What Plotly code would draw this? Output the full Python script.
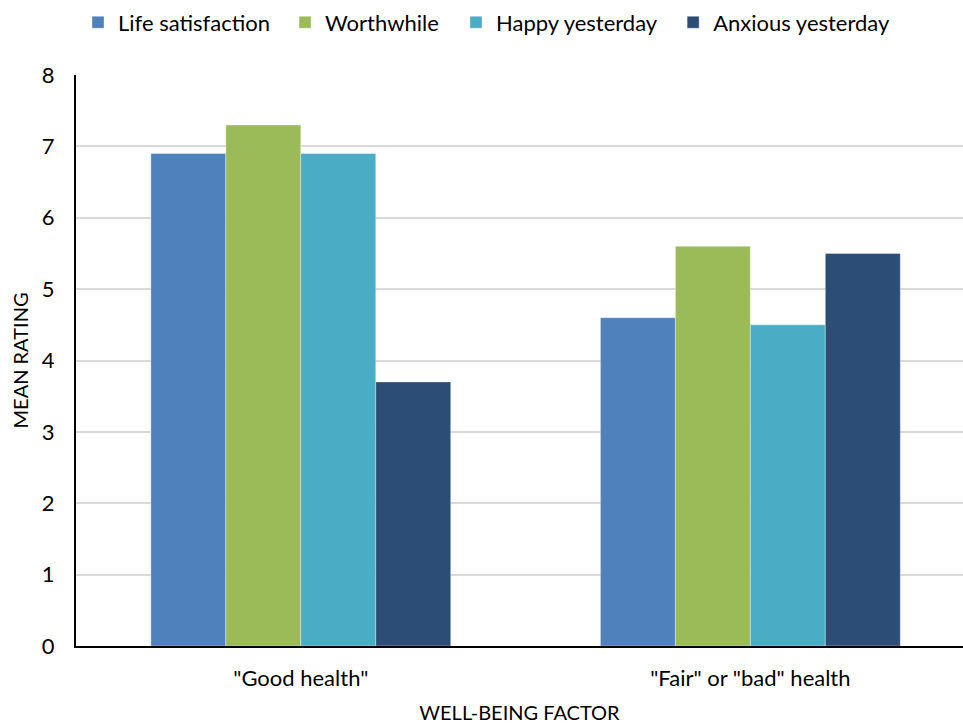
import plotly.graph_objects as go

categories = ['"Good health"', '"Fair" or "bad" health']
series_names = ["Life satisfaction", "Worthwhile", "Happy yesterday", "Anxious yesterday"]
life_satisfaction = [6.9, 4.6]
worthwhile = [7.3, 5.6]
happy_yesterday = [6.9, 4.5]
anxious_yesterday = [3.7, 5.5]
colors = ["#4F81BD", "#9BBB59", "#4BACC6", "#2C4D75"]
y_ticks = [0, 1, 2, 3, 4, 5, 6, 7, 8]

font_family = "Lato, 'Open Sans', sans-serif"

# one legend box per series so the entries can be spread across the top
legend_ids = ["legend", "legend2", "legend3", "legend4"]
legend_x = [0.081, 0.296, 0.4735, 0.699]

fig = go.Figure()
for name, vals, col, lid in zip(series_names,
                                [life_satisfaction, worthwhile, happy_yesterday, anxious_yesterday],
                                colors, legend_ids):
    fig.add_trace(go.Bar(
        x=categories, y=vals, name=name, legend=lid, showlegend=True,
        marker=dict(color=col, line=dict(color="rgba(255,255,255,0.6)", width=0.6)),
    ))

legend_style = dict(
    orientation="h", xref="container", xanchor="left",
    y=0.998, yref="container", yanchor="top",
    font=dict(size=22), itemwidth=30,
)
layout_legends = {lid: dict(legend_style, x=lx) for lid, lx in zip(legend_ids, legend_x)}

fig.update_layout(
    width=963, height=724, showlegend=True,
    barmode="group", bargap=0.333, bargroupgap=0,
    plot_bgcolor="white", paper_bgcolor="white",
    margin=dict(l=76, r=0, t=75, b=78),
    font=dict(family=font_family, size=22, color="#000000"),
    xaxis=dict(
        range=[-0.5, 1.473],
        showline=True, linecolor="#000000", linewidth=2,
        ticks="", ticklabelstandoff=12,
        tickfont=dict(size=22),
        title=dict(text="WELL-BEING FACTOR", font=dict(size=20), standoff=17),
        showgrid=False,
    ),
    yaxis=dict(
        range=[0, 8], tickvals=y_ticks,
        showline=True, linecolor="#000000", linewidth=2,
        showgrid=True, gridcolor="#D9D9D9", gridwidth=2,
        ticks="", ticklabelstandoff=15,
        tickfont=dict(size=22),
        title=dict(text="MEAN RATING", font=dict(size=20), standoff=8),
        zeroline=False,
    ),
    **layout_legends,
)

fig.write_html("out.html")
